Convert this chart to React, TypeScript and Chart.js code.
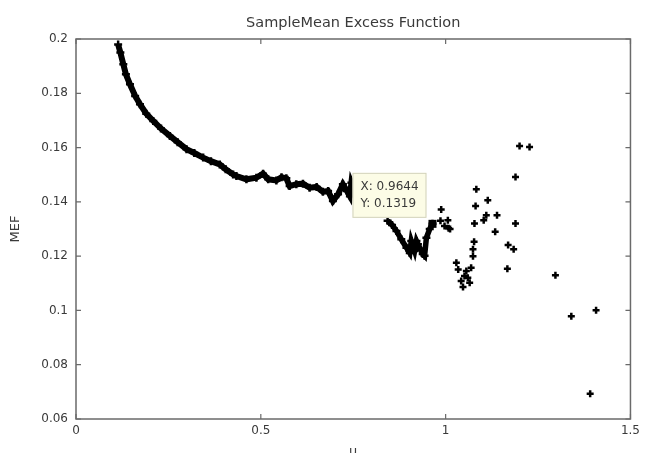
import { useEffect, useRef } from "react";
import { Chart, registerables } from "chart.js";

Chart.register(...registerables);

const TITLE = "SampleMean Excess Function";
const X_LABEL = "u";
const Y_LABEL = "MEF";

const X_TICKS = [0, 0.5, 1, 1.5];
const X_TICK_LABELS = ["0", "0.5", "1", "1.5"];
const Y_TICKS = [0.06, 0.08, 0.1, 0.12, 0.14, 0.16, 0.18, 0.2];
const Y_TICK_LABELS = ["0.06", "0.08", "0.1", "0.12", "0.14", "0.16", "0.18", "0.2"];

// dense part of the mean excess curve
const curveU = [
  0.114, 0.12, 0.128, 0.135, 0.146, 0.16, 0.173, 0.19, 0.209, 0.23, 0.254, 0.275,
  0.299, 0.32, 0.344, 0.365, 0.389, 0.405, 0.425, 0.434, 0.461, 0.488, 0.506, 0.52,
  0.542, 0.556, 0.569, 0.578, 0.596, 0.614, 0.632, 0.651, 0.668, 0.682, 0.695, 0.709,
  0.722, 0.733, 0.741, 0.745, 0.76, 0.79, 0.82,
];
const curveMEF = [
  0.198, 0.195, 0.1907, 0.187, 0.1833, 0.179, 0.176, 0.1725, 0.1698, 0.167, 0.1643, 0.162,
  0.1594, 0.158, 0.1563, 0.155, 0.1538, 0.152, 0.1501, 0.1495, 0.1483, 0.1489, 0.1504, 0.1483,
  0.1479, 0.1491, 0.1487, 0.1458, 0.1465, 0.1467, 0.1452, 0.1455, 0.1437, 0.144, 0.1403, 0.1428,
  0.1465, 0.144, 0.1421, 0.147, 0.142, 0.14, 0.138,
];

// dense wiggly part right of the data tip
const wiggleU = [
  0.843, 0.855, 0.867, 0.88, 0.894, 0.903, 0.907, 0.916, 0.921, 0.925, 0.938, 0.943,
  0.948, 0.957, 0.9644,
];
const wiggleMEF = [
  0.133, 0.1315, 0.1293, 0.1262, 0.1231, 0.1212, 0.1256, 0.1219, 0.1256, 0.1244, 0.1208, 0.1201,
  0.1268, 0.13, 0.1319,
];

// sparse tail points
const tailU = [
  0.988, 0.986, 0.997, 1.006, 1.008, 1.012, 1.029, 1.034, 1.042, 1.047, 1.051, 1.056,
  1.06, 1.065, 1.069, 1.074, 1.074, 1.077, 1.078, 1.081, 1.083, 1.103, 1.11, 1.114,
  1.134, 1.139, 1.167, 1.169, 1.184, 1.189, 1.189, 1.2, 1.227, 1.297, 1.34, 1.407, 1.391,
];
const tailMEF = [
  0.1372, 0.133, 0.1311, 0.1332, 0.1303, 0.13, 0.1176, 0.1151, 0.1108, 0.1086, 0.1127, 0.1145,
  0.112, 0.1102, 0.1157, 0.12, 0.1225, 0.1253, 0.132, 0.1385, 0.1446, 0.1332, 0.1351, 0.1406,
  0.129, 0.1351, 0.1154, 0.1241, 0.1225, 0.132, 0.1492, 0.1606, 0.1602, 0.113, 0.0979, 0.1001, 0.0693,
];

const TIP_U = 0.9644;
const TIP_MEF = 0.1319;
const TIP_LINES = ["X: 0.9644", "Y: 0.1319"];

const FONT = "DejaVu Sans";
const TEXT_COLOR = "#3a3a3a";
const AXIS_COLOR = "#6a6a6a";

const toPoints = (xs: number[], ys: number[]) => xs.map((x, i) => ({ x, y: ys[i] }));

const matlabPlugin = {
  id: "matlabDecor",
  afterDraw(chart: any) {
    const { ctx, chartArea: a, scales } = chart;
    const xs = scales.x;
    const ys = scales.y;
    ctx.save();
    // axes box
    ctx.strokeStyle = AXIS_COLOR;
    ctx.lineWidth = 1.5;
    ctx.strokeRect(a.left, a.top, a.right - a.left, a.bottom - a.top);
    // inward ticks
    ctx.lineWidth = 1.2;
    const tl = 5;
    ctx.beginPath();
    X_TICKS.forEach((v) => {
      const px = xs.getPixelForValue(v);
      ctx.moveTo(px, a.bottom);
      ctx.lineTo(px, a.bottom - tl);
      ctx.moveTo(px, a.top);
      ctx.lineTo(px, a.top + tl);
    });
    Y_TICKS.forEach((v) => {
      const py = ys.getPixelForValue(v);
      ctx.moveTo(a.left, py);
      ctx.lineTo(a.left + tl, py);
      ctx.moveTo(a.right, py);
      ctx.lineTo(a.right - tl, py);
    });
    ctx.stroke();

    // title
    ctx.fillStyle = TEXT_COLOR;
    ctx.textAlign = "center";
    ctx.textBaseline = "middle";
    ctx.font = `14.5px "${FONT}"`;
    ctx.fillText(TITLE, (a.left + a.right) / 2, 23);
    // x label (partly cut by the bottom edge, as in the reference)
    ctx.font = `13px "${FONT}"`;
    ctx.fillText(X_LABEL, (a.left + a.right) / 2, 452);
    // y label
    ctx.save();
    ctx.translate(16, (a.top + a.bottom) / 2);
    ctx.rotate(-Math.PI / 2);
    ctx.fillText(Y_LABEL, 0, 0);
    ctx.restore();

    // data tip
    const px = xs.getPixelForValue(TIP_U);
    const py = ys.getPixelForValue(TIP_MEF);
    const bw = 74;
    const bh = 45;
    const bx = px - 6 - bw;
    const by = py - 6 - bh;
    ctx.fillStyle = "#fcfce6";
    ctx.fillRect(bx, by, bw, bh);
    ctx.strokeStyle = "#d2d2bc";
    ctx.lineWidth = 1;
    ctx.strokeRect(bx + 0.5, by + 0.5, bw - 1, bh - 1);
    ctx.fillStyle = TEXT_COLOR;
    ctx.textAlign = "left";
    ctx.font = `12px "${FONT}"`;
    ctx.fillText(TIP_LINES[0], bx + 8, by + 14);
    ctx.fillText(TIP_LINES[1], bx + 8, by + 31);
    // tip marker
    ctx.fillStyle = "#000";
    ctx.fillRect(px - 4, py - 4, 8, 8);
    ctx.restore();
  },
};

export default function App() {
  const ref = useRef<HTMLCanvasElement | null>(null);

  useEffect(() => {
    document.body.style.margin = "0";
    const canvas = ref.current;
    if (!canvas) return;
    const tickFont = { family: FONT, size: 12 };
    const chart = new Chart(canvas, {
      type: "scatter",
      data: {
        datasets: [
          {
            data: toPoints(curveU, curveMEF),
            showLine: true,
            borderColor: "#000",
            borderWidth: 6,
            pointStyle: "cross",
            pointRadius: 4,
            pointBorderWidth: 2.5,
            pointBorderColor: "#000",
            tension: 0,
          },
          {
            data: toPoints(wiggleU, wiggleMEF),
            showLine: true,
            borderColor: "#000",
            borderWidth: 5.5,
            pointStyle: "cross",
            pointRadius: 4,
            pointBorderWidth: 2.5,
            pointBorderColor: "#000",
            tension: 0,
          },
          {
            data: toPoints(tailU, tailMEF),
            showLine: false,
            pointStyle: "cross",
            pointRadius: 3.5,
            pointBorderWidth: 2.5,
            pointBorderColor: "#000",
            backgroundColor: "#000",
          },
        ],
      },
      options: {
        responsive: false,
        animation: false,
        events: [],
        layout: { padding: { top: 39, right: 13, left: 0, bottom: 0 } },
        plugins: {
          legend: { display: false },
          tooltip: { enabled: false },
          title: { display: false },
        },
        scales: {
          x: {
            type: "linear",
            min: 0,
            max: 1.5,
            afterBuildTicks: (s: any) => {
              s.ticks = X_TICKS.map((v) => ({ value: v }));
            },
            afterFit: (s: any) => {
              s.height = 34;
            },
            ticks: {
              autoSkip: false,
              maxRotation: 0,
              padding: 5,
              color: TEXT_COLOR,
              font: tickFont,
              callback: (_v: any, i: number) => X_TICK_LABELS[i],
            },
            grid: { display: false, drawTicks: false },
            border: { display: false },
          },
          y: {
            type: "linear",
            min: 0.06,
            max: 0.2,
            afterBuildTicks: (s: any) => {
              s.ticks = Y_TICKS.map((v) => ({ value: v }));
            },
            afterFit: (s: any) => {
              s.width = 76;
            },
            ticks: {
              autoSkip: false,
              padding: 8,
              color: TEXT_COLOR,
              font: tickFont,
              callback: (_v: any, i: number) => Y_TICK_LABELS[i],
            },
            grid: { display: false, drawTicks: false },
            border: { display: false },
          },
        },
      },
      plugins: [matlabPlugin],
    } as any);
    return () => chart.destroy();
  }, []);

  return (
    <div style={{ width: 645, height: 453, background: "#fff" }}>
      <canvas ref={ref} width={645} height={453} style={{ display: "block" }} />
    </div>
  );
}
